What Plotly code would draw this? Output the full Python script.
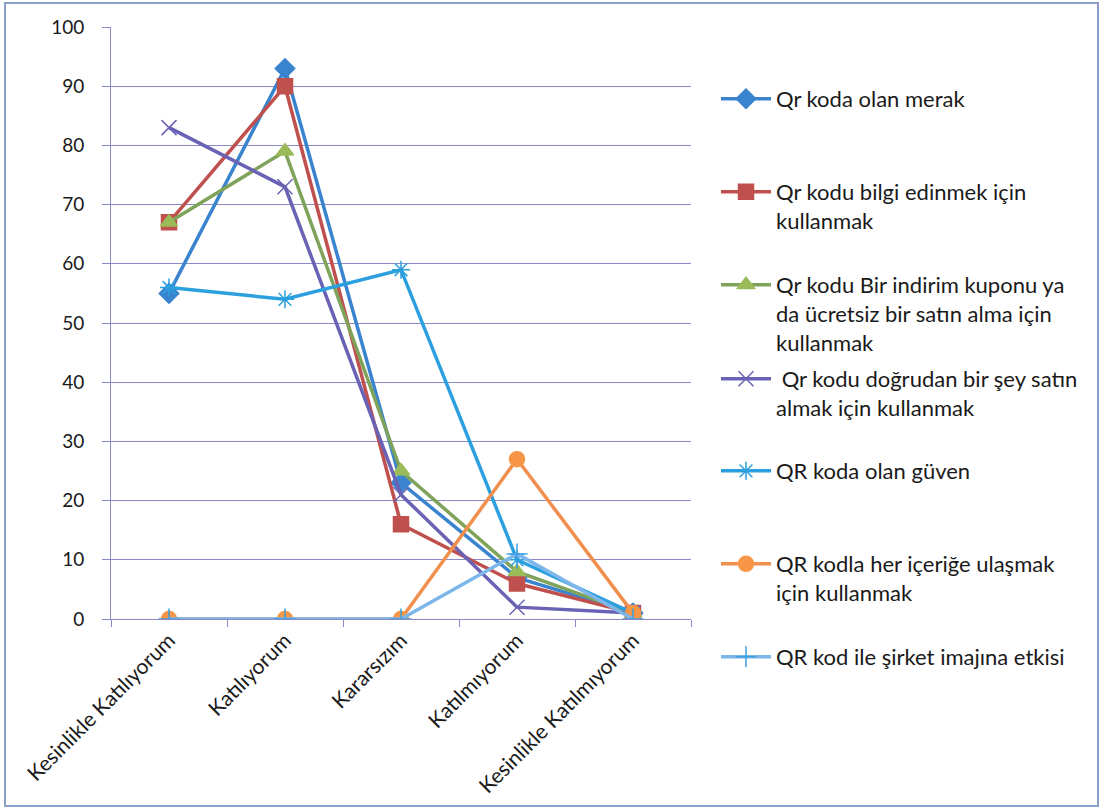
import plotly.graph_objects as go

categories = ["Kesinlikle Katılıyorum", "Katılıyorum", "Kararsızım", "Katılmıyorum", "Kesinlikle Katılmıyorum"]

series_names = [
    "Qr koda olan merak",
    "Qr kodu bilgi edinmek için<br>kullanmak",
    "Qr kodu Bir indirim kuponu ya<br>da ücretsiz bir satın alma için<br>kullanmak",
    " Qr kodu doğrudan bir şey satın<br>almak için kullanmak",
    "QR koda olan güven",
    "QR kodla her içeriğe ulaşmak<br>için kullanmak",
    "QR kod ile şirket imajına etkisi",
]

merak = [55, 93, 23, 7, 1]
bilgi = [67, 90, 16, 6, 1]
indirim = [67, 79, 25, 8, 1]
dogrudan = [83, 73, 21, 2, 1]
guven = [56, 54, 59, 10, 1]
icerik = [0, 0, 0, 27, 1]
imaj = [0, 0, 0, 11, 0]

values = [merak, bilgi, indirim, dogrudan, guven, icerik, imaj]
line_colors = ["#3a84cf", "#c0504d", "#7fa35a", "#6a62b4", "#2c9fde", "#f08f4e", "#7db6ea"]
marker_colors = ["#3a84cf", "#c0504d", "#9bbb59", "#6a62b4", "#2c9fde", "#f79646", "#3aa0e0"]
symbols = ["diamond", "square", "triangle-up", "x-thin-open", "asterisk-open", "circle", "cross-thin-open"]
sizes = [15, 15, 15, 15, 15, 15, 15]

# legend first-line centre positions (pixels from top of figure)
legend_px = [100, 193, 286, 380, 472, 565, 658]

W, H = 1103, 809
L, R, T, B = 111, 412, 27, 190
pw = W - L - R
ph = H - T - B

fig = go.Figure()
for i, (name, vals) in enumerate(zip(series_names, values)):
    lg = "legend" if i == 0 else f"legend{i+1}"
    fig.add_trace(go.Scatter(
        x=categories, y=vals, name=name, mode="lines+markers",
        line=dict(color=line_colors[i], width=3.5),
        marker=dict(symbol=symbols[i], size=sizes[i], color=marker_colors[i],
                    line=dict(color=marker_colors[i], width=1.5)),
        legend=lg, showlegend=True,
    ))

legend_font = dict(family="Lato, Carlito, sans-serif", size=22, color="#1a1a1a")
layout_legends = {}
for i, py in enumerate(legend_px):
    key = "legend" if i == 0 else f"legend{i+1}"
    layout_legends[key] = dict(
        x=(716 - L) / pw, xanchor="left",
        y=1 - (py - 22 - T) / ph, yanchor="top",
        font=legend_font, valign="top",
        bgcolor="rgba(0,0,0,0)", borderwidth=0,
        itemwidth=50, tracegroupgap=0, visible=True,
    )

fig.update_layout(
    width=W, height=H,
    margin=dict(l=L, r=R, t=T, b=B),
    paper_bgcolor="white", plot_bgcolor="white",
    font=dict(family="Lato, Carlito, sans-serif", size=18, color="#1a1a1a"),
    showlegend=True,
    **layout_legends,
)

grid_color = "#8a8ac8"
fig.update_xaxes(
    type="category", tickangle=-45, showgrid=False,
    showline=True, linecolor=grid_color, linewidth=1,
    ticks="outside", ticklen=7, tickcolor=grid_color,
    tickson="boundaries",
    tickfont=dict(size=21, color="#1a1a1a"),
    range=[-0.5, 4.5],
)
fig.update_yaxes(
    range=[0, 100], dtick=10, showgrid=True, gridcolor=grid_color, gridwidth=1,
    showline=True, linecolor=grid_color, linewidth=1,
    ticks="outside", ticklen=8, tickcolor=grid_color,
    ticklabelstandoff=14,
    tickfont=dict(size=19, color="#1a1a1a"), zeroline=False,
)

# outer frame around the chart
fig.add_shape(type="rect", xref="paper", yref="paper",
              x0=(5 - L) / pw, x1=(1098 - L) / pw,
              y0=1 - (806 - T) / ph, y1=1 - (3 - T) / ph,
              line=dict(color="#8b9fc8", width=2), fillcolor="rgba(0,0,0,0)", layer="below")

fig.write_html("out.html")
